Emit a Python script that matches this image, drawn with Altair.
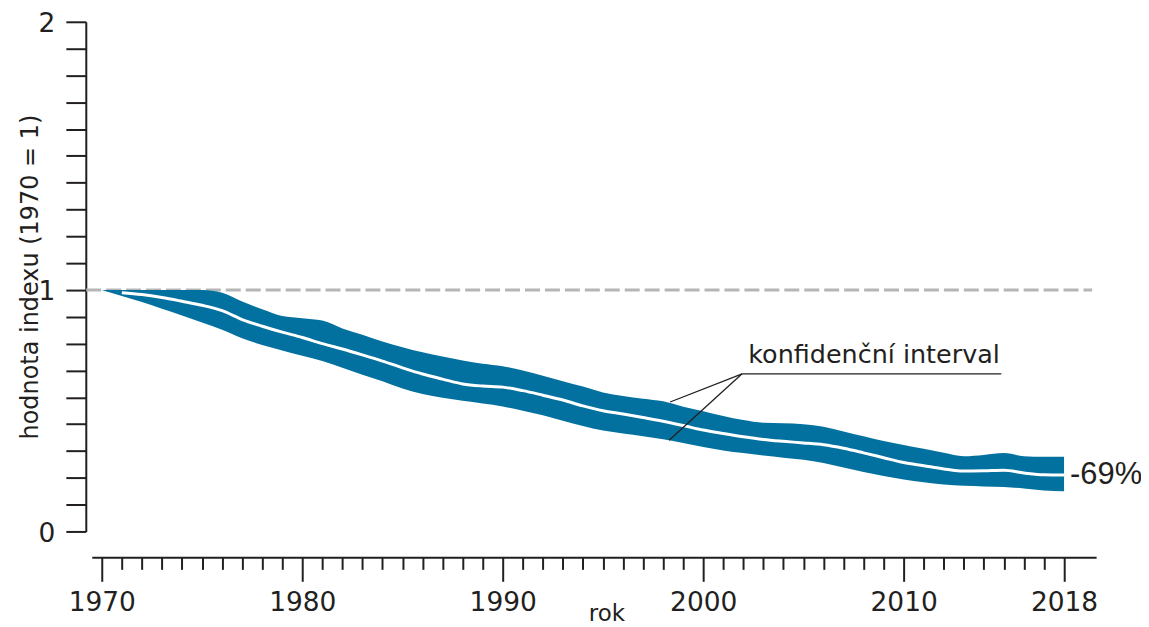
import altair as alt
import pandas as pd

# ---------------- data ----------------
years = list(range(1970, 2019))
upper = [1.0, 1.0, 1.0, 1.0, 1.0, 1.0, 0.99, 0.957, 0.928, 0.903,
         0.895, 0.886, 0.857, 0.833, 0.808, 0.787, 0.768, 0.752, 0.737, 0.725,
         0.716, 0.70, 0.68, 0.66, 0.64, 0.618, 0.605, 0.595, 0.585, 0.565,
         0.548, 0.53, 0.515, 0.505, 0.503, 0.50, 0.49, 0.473, 0.455, 0.437,
         0.422, 0.408, 0.393, 0.38, 0.385, 0.392, 0.38, 0.378, 0.378]
lower = [1.0, 0.978, 0.955, 0.93, 0.905, 0.879, 0.852, 0.82, 0.795, 0.775,
         0.755, 0.735, 0.71, 0.684, 0.66, 0.633, 0.612, 0.598, 0.587, 0.577,
         0.566, 0.55, 0.533, 0.513, 0.493, 0.476, 0.465, 0.455, 0.444, 0.43,
         0.415, 0.402, 0.392, 0.383, 0.375, 0.367, 0.355, 0.338, 0.322, 0.307,
         0.294, 0.283, 0.275, 0.27, 0.268, 0.266, 0.26, 0.253, 0.25]
mid_years = list(range(1971, 2019))
mid = [0.99, 0.983, 0.972, 0.958, 0.943, 0.923, 0.89, 0.865, 0.843, 0.823,
       0.80, 0.78, 0.758, 0.735, 0.71, 0.687, 0.668, 0.65, 0.642, 0.638,
       0.625, 0.608, 0.59, 0.568, 0.55, 0.538, 0.525, 0.511, 0.495, 0.478,
       0.465, 0.453, 0.443, 0.436, 0.43, 0.423, 0.41, 0.393, 0.375, 0.357,
       0.345, 0.333, 0.325, 0.326, 0.328, 0.318, 0.311, 0.31]

x_tick_years = years
y_tick_values = [round(0.1 * i, 1) for i in range(1, 21)]

ref_level = [1.0]
ref_from = [1969.22]
ref_to = [2019.4]

callout_x = [2001.94, 2001.94, 2001.94]
callout_y = [0.6877, 0.6877, 0.6877]
callout_x2 = [2014.87, 1998.35, 1998.30]
callout_y2 = [0.6877, 0.5825, 0.4398]
callout_text = ["konfidenční interval"]
callout_text_x = [2002.25]
callout_text_y = [0.7275]

end_text = ["-69%"]
end_year = [2018]
end_value = [0.31]

# ---------------- styling ----------------
BAND = "#03719f"
INK = "#231f20"
REF = "#b5b5b5"
FONT = "DejaVu Sans"

band_df = pd.DataFrame({"rok": years, "hodnota": lower, "horni": upper})
mid_df = pd.DataFrame({"rok": mid_years, "hodnota": mid})
ref_df = pd.DataFrame({"rok": ref_from, "rok2": ref_to, "hodnota": ref_level})
call_df = pd.DataFrame({"rok": callout_x, "rok2": callout_x2,
                        "hodnota": callout_y, "hodnota2": callout_y2})
ctext_df = pd.DataFrame({"rok": callout_text_x, "hodnota": callout_text_y, "t": callout_text})
end_df = pd.DataFrame({"rok": end_year, "hodnota": end_value, "t": end_text})

x_scale = alt.Scale(domain=[1969.5, 2019.6], nice=False, zero=False)
y_scale = alt.Scale(domain=[0.1, 2.0], nice=False, zero=False)

major = "datum.value % 10 === 0 || datum.value === 2018"
x_axis = alt.Axis(
    values=x_tick_years, format="d", title="rok",
    labelExpr=f"({major}) ? datum.label : ''",
    tickSize={"condition": {"test": major, "value": 24}, "value": 12},
    tickColor=INK, tickWidth=2, domainColor=INK, domainWidth=2,
    labelFont=FONT, labelFontSize=26.5, labelColor=INK, labelPadding=8,
    labelFlush=False, labelOverlap=False, grid=False, offset=26,
    titleFont=FONT, titleFontSize=23, titleColor=INK, titleFontWeight="normal",
    titleX=516, titleY=63, titleBaseline="alphabetic",
)
y_axis = alt.Axis(
    values=y_tick_values, title="hodnota indexu (1970 = 1)",
    labelExpr="abs(datum.value - 0.1) < 0.001 ? '0' : ((abs(datum.value - 1) < 0.001 || abs(datum.value - 2) < 0.001) ? format(datum.value, '.0f') : '')",
    tickSize=20, tickColor=INK, tickWidth=2, domainColor=INK, domainWidth=2,
    labelFont=FONT, labelFontSize=26.5, labelColor=INK, labelPadding=11,
    labelOffset=2,
    labelFlush=False, labelOverlap=False, grid=False, offset=6,
    titleFont=FONT, titleFontSize=24, titleColor=INK, titleFontWeight="normal",
    titlePadding=-4,
)


def X(field="rok"):
    return alt.X(f"{field}:Q", scale=x_scale, axis=x_axis)


def Y(field="hodnota"):
    return alt.Y(f"{field}:Q", scale=y_scale, axis=y_axis)


ref = alt.Chart(ref_df).mark_rule(color=REF, strokeWidth=3, strokeDash=[15, 5]).encode(
    x=X(), x2="rok2:Q", y=Y())

band = alt.Chart(band_df).mark_area(color=BAND, opacity=1, interpolate="monotone").encode(
    x=X(), y=Y(), y2="horni:Q")

line = alt.Chart(mid_df).mark_line(color="white", strokeWidth=3, interpolate="monotone").encode(
    x=X(), y=Y())

leaders = alt.Chart(call_df).mark_rule(color=INK, strokeWidth=1.3).encode(
    x=X(), x2="rok2:Q", y=Y(), y2="hodnota2:Q")

ctext = alt.Chart(ctext_df).mark_text(
    align="left", baseline="alphabetic", font=FONT, fontSize=25.5, color=INK
).encode(x=X(), y=Y(), text="t:N")

etext = alt.Chart(end_df).mark_text(
    align="left", baseline="middle", dx=6, font="Liberation Sans", fontSize=31, color=INK
).encode(x=X(), y=Y(), text="t:N")

chart = alt.layer(ref, band, line, leaders, ctext, etext).properties(
    width=1007, height=511,
    autosize=alt.AutoSizeParams(type="none"),
    padding={"left": 84, "top": 13, "right": 45, "bottom": 100},
    background="white",
).configure_view(stroke=None)

chart.save("out.html", embed_options={"renderer": "svg", "actions": False})
